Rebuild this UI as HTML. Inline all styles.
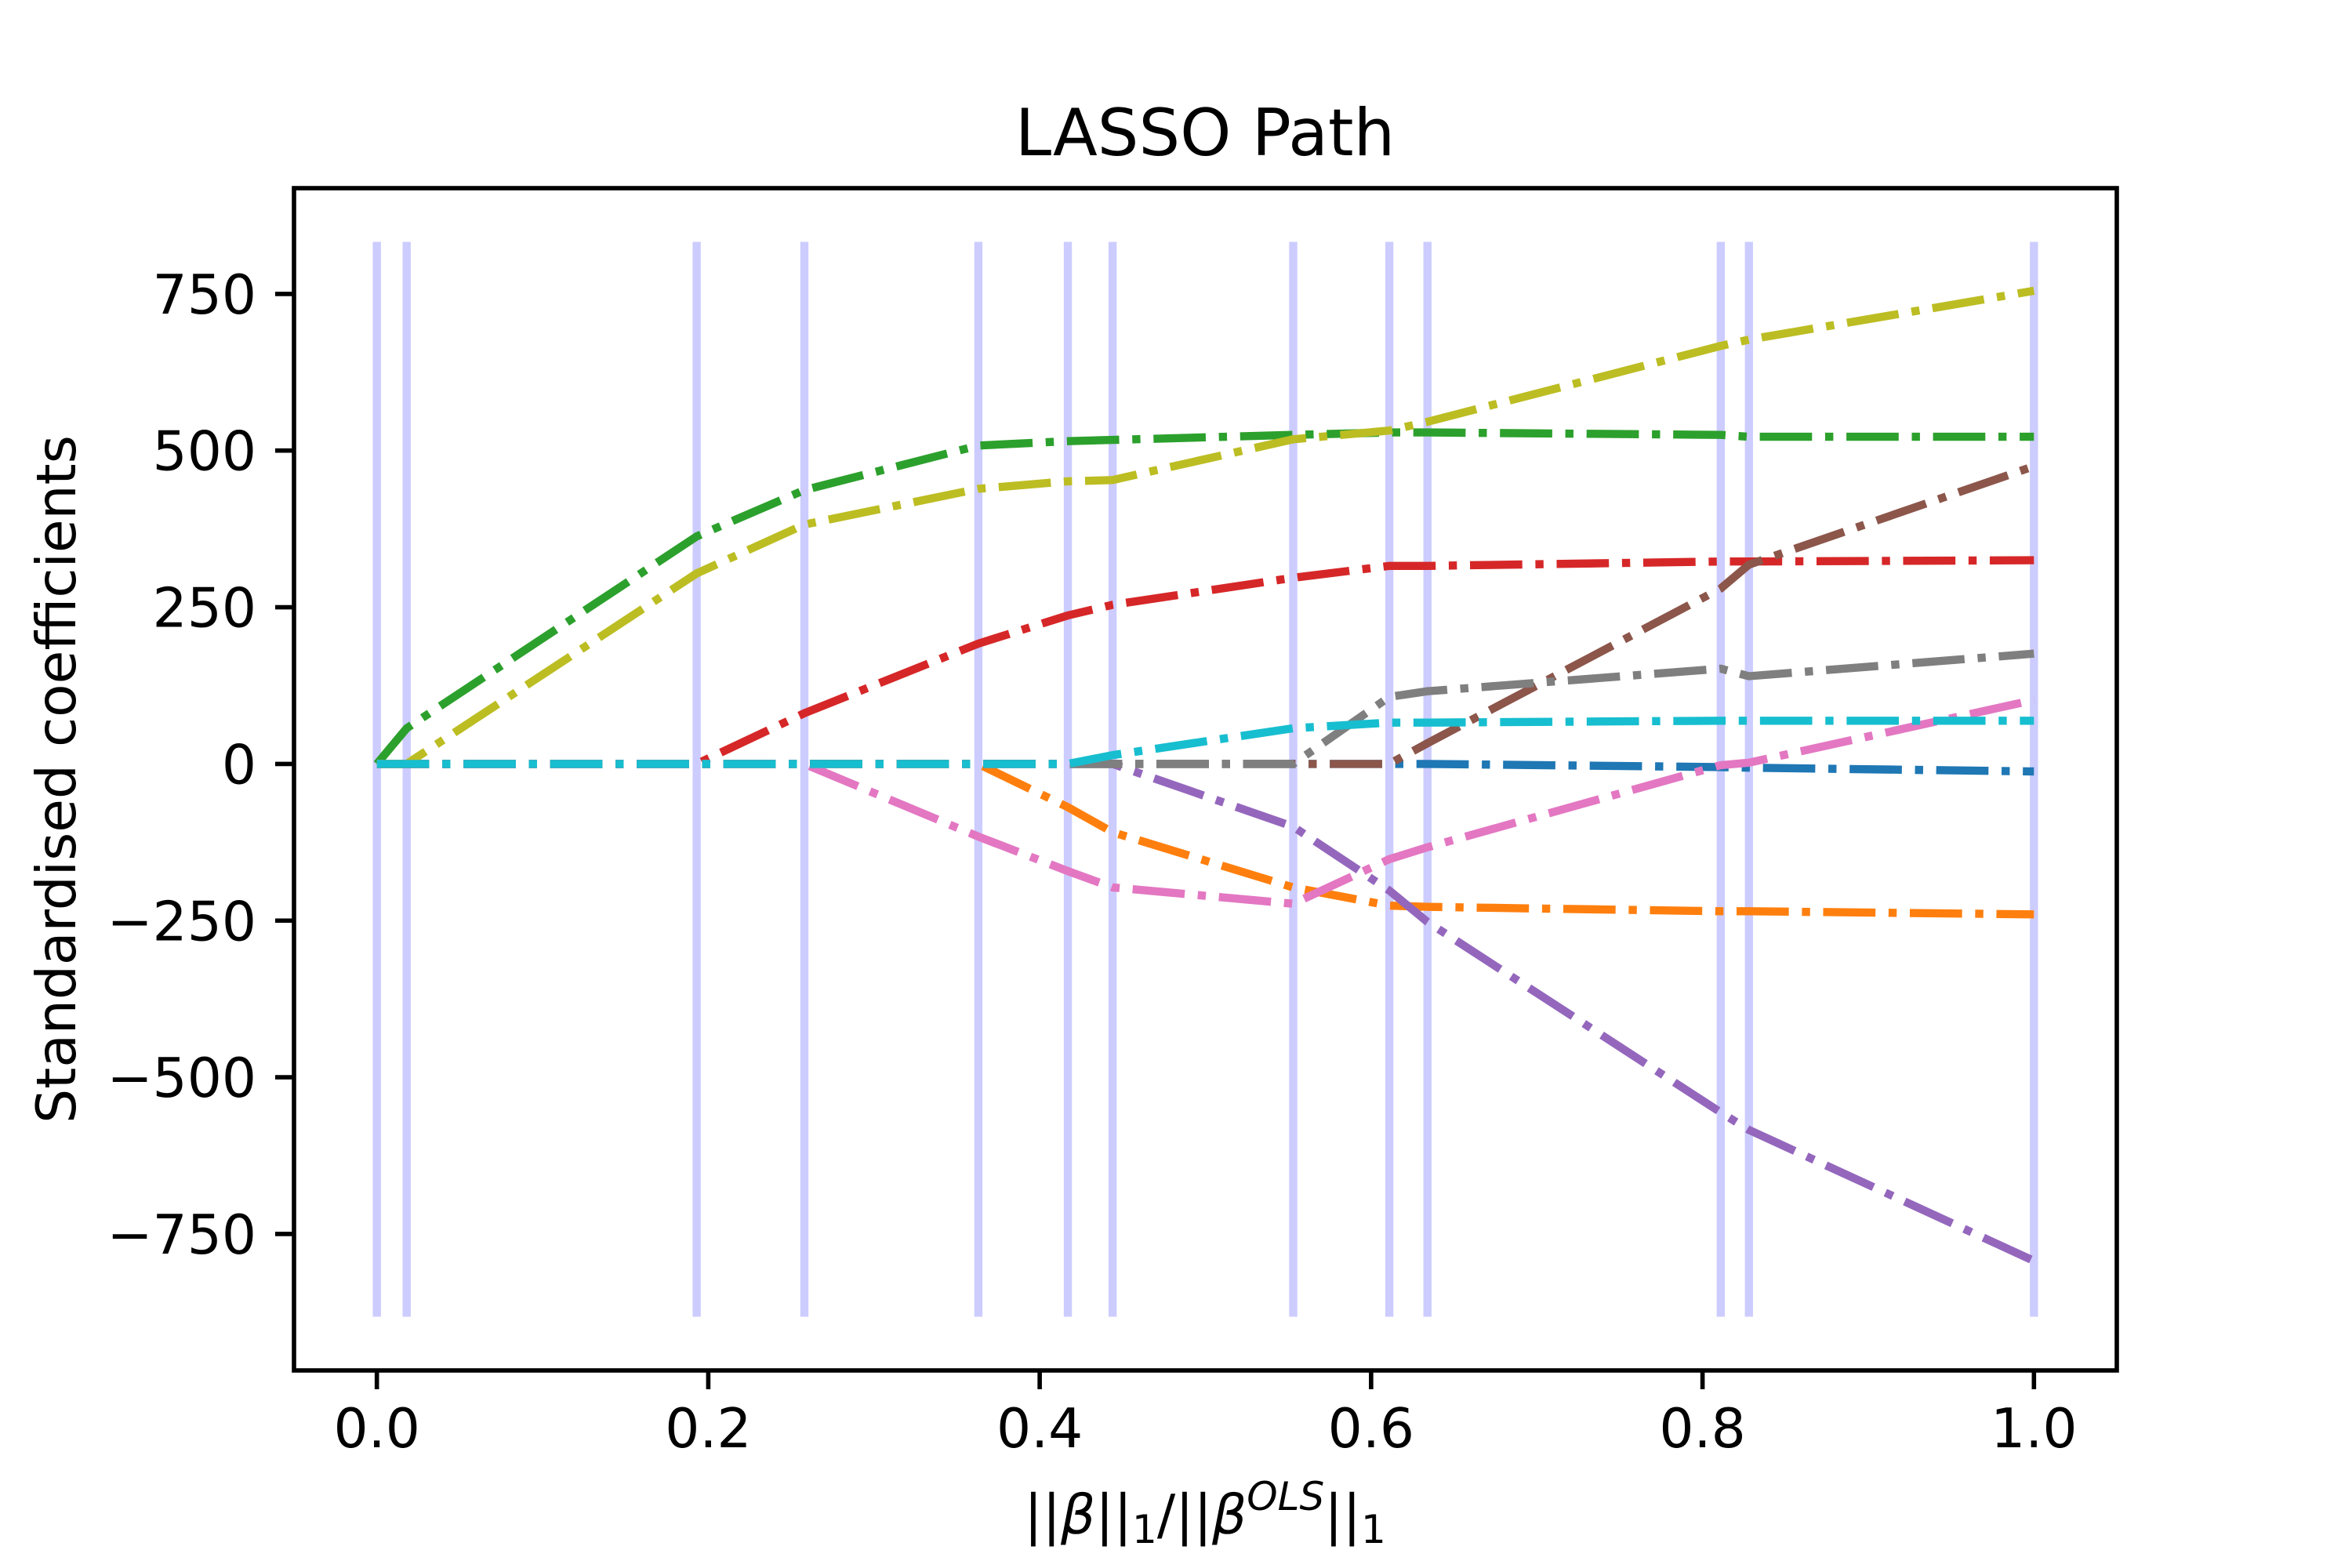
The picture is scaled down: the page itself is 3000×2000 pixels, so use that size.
<!DOCTYPE html>
<html><head><meta charset="utf-8"><style>
html,body{margin:0;padding:0;background:#fff;}
svg{display:block;font-family:"DejaVu Sans","Liberation Sans",sans-serif;}
</style></head><body>
<svg id="chart" width="3000" height="2000" viewBox="0 0 3000 2000" xmlns="http://www.w3.org/2000/svg">
<rect width="3000" height="2000" fill="#fff"/>
<text x="1537" y="198" font-size="83" text-anchor="middle">LASSO Path</text>
<g id="vlines"></g>
<g id="series"></g>
<rect x="375" y="240" width="2325" height="1508" fill="none" stroke="#000" stroke-width="5.6"/>
<g id="xticks"></g>
<g id="yticks"></g>
<text transform="translate(96,994) rotate(-90)" font-size="69.4" text-anchor="middle">Standardised coefficients</text>
<text x="1537" y="1956" font-size="69.4" text-anchor="middle">||<tspan font-style="italic">β</tspan>||<tspan font-size="50" dy="12">1</tspan><tspan dy="-12">/||</tspan><tspan font-style="italic">β</tspan><tspan font-style="italic" font-size="50" dy="-30">OLS</tspan><tspan dy="30">||</tspan><tspan font-size="50" dy="12">1</tspan></text>
</svg>
<script>
const breaks = [0.0, 0.018, 0.193, 0.258, 0.363, 0.417, 0.444, 0.553, 0.611, 0.634, 0.811, 0.828, 1.0];
const sBlue   = [0,0,0,0,0,0,0,0,0,0,-5,-6,-12];
const sOrange = [0,0,0,0,0,-69,-109,-197,-226,-228,-235,-235,-240];
const sGreen  = [0,57,363,437,508,515,517,525,529,529,525,522,522];
const sRed    = [0,0,0,81,192,237,254,297,316,316,323,323,325];
const sPurple = [0,0,0,0,0,0,0,-100,-202,-252,-556,-584,-793];
const sBrown  = [0,0,0,0,0,0,0,0,0,33,280,318,475];
const sPink   = [0,0,0,0,-116,-171,-197,-223,-152,-133,-2,2,102];
const sGray   = [0,0,0,0,0,0,0,0,107,116,152,140,176];
const sOlive  = [0,0,304,382,439,451,453,518,532,546,667,677,755];
const sCyan   = [0,0,0,0,0,0,14,57,66,66,69,69,69];
const xTickLabels = ["0.0","0.2","0.4","0.6","0.8","1.0"];
const xTickValues = [0,0.2,0.4,0.6,0.8,1.0];
const yTickValues = [-750,-500,-250,0,250,500,750];
const vlineMin = -882, vlineMax = 833;

const AX = {l:375, r:2700, t:240, b:1748};
const xmin=-0.05, xmax=1.05;
const yr = vlineMax - vlineMin;
const ymin = vlineMin - 0.05*yr, ymax = vlineMax + 0.05*yr;
function X(v){return AX.l + (v-xmin)/(xmax-xmin)*(AX.r-AX.l);}
function Y(v){return AX.b - (v-ymin)/(ymax-ymin)*(AX.b-AX.t);}
const NS="http://www.w3.org/2000/svg";
function mk(tag, attrs, parent){const e=document.createElementNS(NS,tag);for(const k in attrs)e.setAttribute(k,attrs[k]);parent.appendChild(e);return e;}

const vg=document.getElementById('vlines');
breaks.forEach((b,i)=>{
  const l=mk('line',{x1:X(b),x2:X(b),y1:Y(vlineMin),y2:Y(vlineMax),stroke:'#ccccff','stroke-width':10.4},vg);
  
  
});

const series=[["coef-blue",sBlue,"#1f77b4"],["coef-orange",sOrange,"#ff7f0e"],["coef-green",sGreen,"#2ca02c"],["coef-red",sRed,"#d62728"],["coef-purple",sPurple,"#9467bd"],["coef-brown",sBrown,"#8c564b"],["coef-pink",sPink,"#e377c2"],["coef-gray",sGray,"#7f7f7f"],["coef-olive",sOlive,"#bcbd22"],["coef-cyan",sCyan,"#17becf"]];
const sg=document.getElementById('series');
series.forEach(s=>{
  const pts=s[1].map((v,i)=>X(breaks[i]).toFixed(1)+','+Y(v).toFixed(1)).join(' ');
  const p=mk('polyline',{points:pts,fill:'none',stroke:s[2],'stroke-width':10.4,'stroke-dasharray':'66.7 16.7 10.4 16.7','stroke-linejoin':'round'},sg);
  
  
});

const xg=document.getElementById('xticks');
xTickValues.forEach((v,i)=>{
  const t=mk('line',{x1:X(v),x2:X(v),y1:AX.b,y2:AX.b+24,stroke:'#000','stroke-width':5.6},xg);
  
  
  const tx=mk('text',{x:X(v),y:AX.b+98,'font-size':69.4,'text-anchor':'middle'},xg);
  tx.textContent=xTickLabels[i];
  
  
});
const yg=document.getElementById('yticks');
yTickValues.forEach(v=>{
  const t=mk('line',{x1:AX.l-24,x2:AX.l,y1:Y(v),y2:Y(v),stroke:'#000','stroke-width':5.6},yg);
  
  
  const tx=mk('text',{x:AX.l-48,y:Y(v)+25,'font-size':69.4,'text-anchor':'end'},yg);
  tx.textContent=(v<0?'\u2212':'')+Math.abs(v);
  
  
});
</script>
</body></html>
